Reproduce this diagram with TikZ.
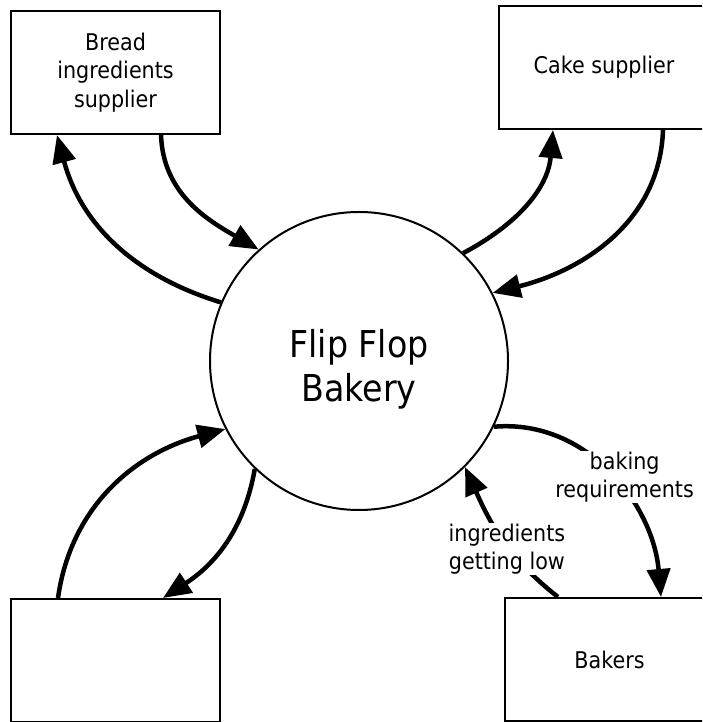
\documentclass[tikz,border=0pt]{standalone}
\usepackage{fontspec}
\setmainfont{DejaVu Sans}[FakeStretch=0.9]
\usetikzlibrary{arrows.meta}
\begin{document}
\begin{tikzpicture}[x=1pt,y=1pt,
  box/.style={draw, line width=2pt, minimum width=209pt, minimum height=123pt, inner sep=0pt, align=center, font=\fontsize{23}{28.5}\selectfont},
  proc/.style={draw, circle, line width=2pt, minimum size=298pt, inner sep=0pt},
  proctext/.style={align=center, font=\fontsize{37}{44}\selectfont},
  flow/.style={line width=4.5pt, -{Triangle[length=28pt,width=23pt]}},
  lbl/.style={fill=white, inner sep=1pt, align=center, font=\fontsize{23}{28}\selectfont}]
\useasboundingbox (0,0) rectangle (702,722);
\clip (0,0) rectangle (702,722);
\fill[white] (0,0) rectangle (702,722);
\node[box] (bread) at (115.5,649.5) {Bread\\ingredients\\supplier};
\node[box, minimum width=210pt] (cake) at (604,654.5) {Cake supplier};
\node[box] (bakers) at (609.5,62.5) {Bakers};
\node[box] (ext) at (115.5,61.5) {};
\node[proc, label={[proctext, yshift=-8pt]center:Flip Flop\\Bakery}] (bakery) at (359,361) {};
\draw[flow] (bakery.157) to[out=163,in=-75] ([xshift=-58.5pt]bread.south);
\draw[flow] ([xshift=45.5pt]bread.south) to[out=-88,in=150] (bakery.132);
\draw[flow] (bakery.46) to[out=28,in=-95] ([xshift=-51pt]cake.south);
\draw[flow] ([xshift=59pt]cake.south) to[out=-92,in=14] (bakery.27);
\draw[flow] (bakery.-26) to[out=5,in=95] node[lbl,pos=0.55,xshift=7pt,yshift=7pt]{baking\\requirements} ([xshift=51.5pt]bakers.north);
\draw[flow] ([xshift=-51.5pt]bakers.north) to[out=142,in=-66] node[lbl,pos=0.45,yshift=-4pt]{ingredients\\getting low} (bakery.-45);
\draw[flow] ([xshift=-57.5pt]ext.north) to[out=82,in=-165] (bakery.207);
\draw[flow] (bakery.226) to[out=-100,in=33] ([xshift=47.5pt]ext.north);
\end{tikzpicture}
\end{document}
